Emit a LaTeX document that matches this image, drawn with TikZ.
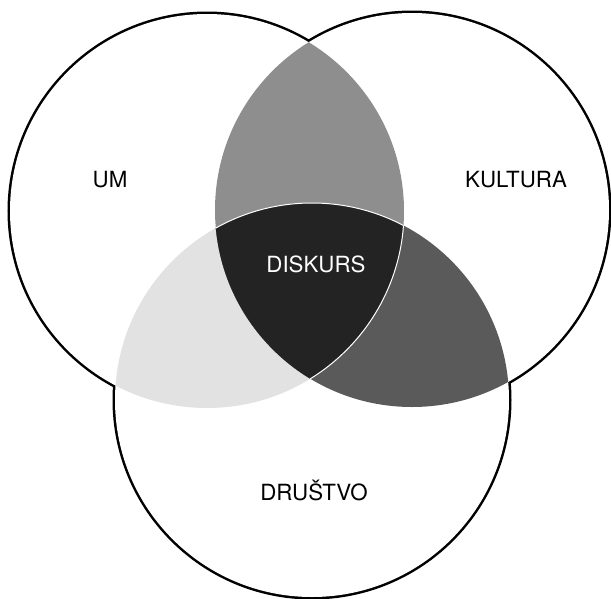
\documentclass[tikz,border=0pt]{standalone}
\usepackage{fontspec}
\newfontfamily\labfont{TeX Gyre Heros}
\definecolor{lensgray}{HTML}{8E8E8E}
\definecolor{coregray}{HTML}{232323}
\definecolor{rightgray}{HTML}{5A5A5A}
\definecolor{leftgray}{HTML}{E2E2E2}
\begin{document}
\begin{tikzpicture}[x=1pt,y=-1pt,
  lab/.style={font=\labfont\fontsize{22.3}{24}\selectfont, inner sep=0pt},
  rad/.style={radius=197}]
\useasboundingbox (0,0) rectangle (611,598);
\coordinate (L) at (207,211);
\coordinate (R) at (412,210);
\coordinate (B) at (312,400);
% outline of the union
\draw[line width=5pt] (L) circle[rad] (R) circle[rad] (B) circle[rad];
\fill[white] (L) circle[rad] (R) circle[rad] (B) circle[rad];
% UM & DRUSTVO
\begin{scope}
  \clip (L) circle[rad];
  \fill[leftgray] (B) circle[rad];
\end{scope}
% KULTURA & DRUSTVO
\begin{scope}
  \clip (R) circle[rad];
  \fill[rightgray] (B) circle[rad];
\end{scope}
% UM & KULTURA
\begin{scope}
  \clip (L) circle[rad];
  \fill[lensgray] (R) circle[rad];
\end{scope}
% core
\begin{scope}
  \clip (L) circle[rad];
  \clip (R) circle[rad];
  \fill[coregray] (B) circle[rad];
  \draw[white, line width=1pt] (B) circle[rad];
\end{scope}
\begin{scope}
  \clip (R) circle[rad];
  \clip (B) circle[rad];
  \draw[white, line width=1pt] (L) circle[rad];
\end{scope}
\node[lab] (um) at (110,180) {UM};
\node[lab] (kultura) at (516,180) {KULTURA};
\node[lab, text=white] (diskurs) at (316,264) {DISKURS};
\node[lab] (drustvo) at (314,490) {DRUŠTVO};
\end{tikzpicture}
\end{document}
